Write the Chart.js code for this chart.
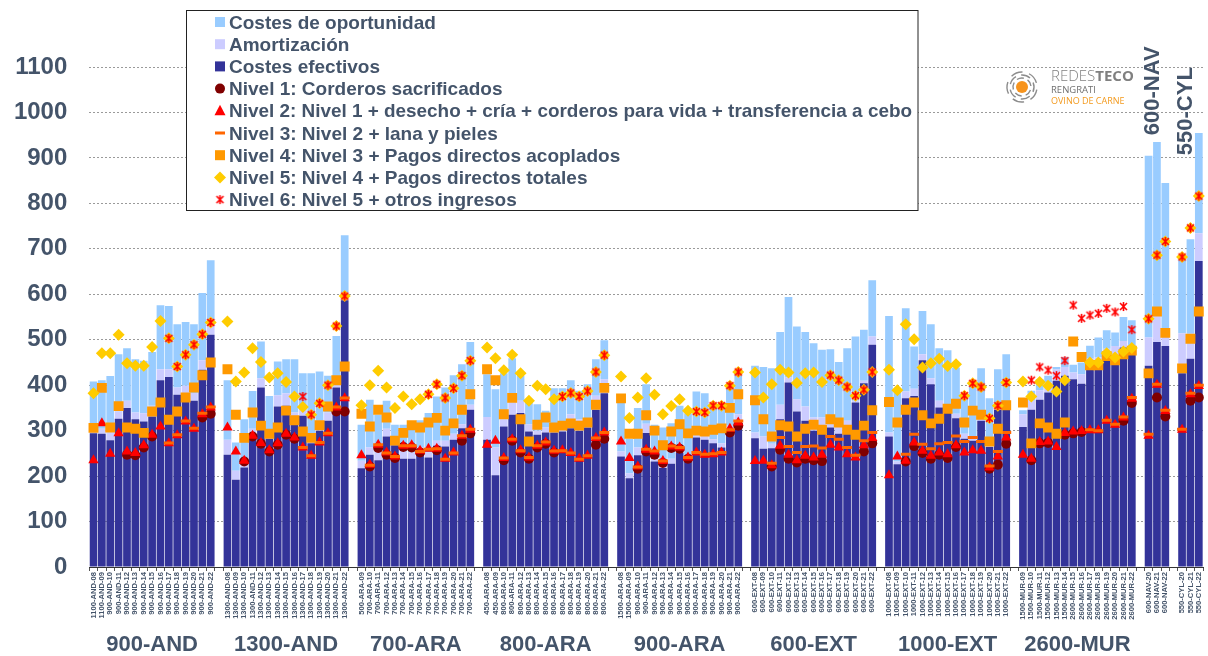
<!DOCTYPE html>
<html><head><meta charset="utf-8">
<script src="https://cdn.jsdelivr.net/npm/chart.js@4.4.1/dist/chart.umd.min.js"></script>
<style>
html,body{margin:0;padding:0;background:#fff;overflow:hidden;width:1208px;height:656px}
canvas{display:block}
</style></head><body>
<canvas id="c" width="1211" height="656"></canvas>
<script>
// ---------- DATA ----------
const groupNames = ['900-AND','1300-AND','700-ARA','800-ARA','900-ARA','600-EXT','1000-EXT','2600-MUR','600-NAV','550-CYL'];

const categories = [
'1100-AND-08','1100-AND-09','900-AND-10','900-AND-11','900-AND-12','900-AND-13','900-AND-14','900-AND-15','900-AND-16','900-AND-17','900-AND-18','900-AND-19','900-AND-20','900-AND-21','900-AND-22','',
'1300-AND-08','1300-AND-09','1300-AND-10','1300-AND-11','1300-AND-12','1300-AND-13','1300-AND-14','1300-AND-15','1300-AND-16','1300-AND-17','1300-AND-18','1300-AND-19','1300-AND-20','1300-AND-21','1300-AND-22','',
'500-ARA-09','700-ARA-10','700-ARA-11','700-ARA-12','700-ARA-13','700-ARA-14','700-ARA-15','700-ARA-16','700-ARA-17','700-ARA-18','700-ARA-19','700-ARA-20','700-ARA-21','700-ARA-22','',
'450-ARA-08','450-ARA-09','800-ARA-10','800-ARA-11','800-ARA-12','800-ARA-13','800-ARA-14','800-ARA-15','800-ARA-16','800-ARA-17','800-ARA-18','800-ARA-19','800-ARA-20','800-ARA-21','800-ARA-22','',
'1500-ARA-08','1500-ARA-09','900-ARA-10','900-ARA-11','900-ARA-12','900-ARA-13','900-ARA-14','900-ARA-15','900-ARA-16','900-ARA-17','900-ARA-18','900-ARA-19','900-ARA-20','900-ARA-21','900-ARA-22','',
'600-EXT-08','600-EXT-09','600-EXT-10','600-EXT-11','600-EXT-12','600-EXT-13','600-EXT-14','600-EXT-15','600-EXT-16','600-EXT-17','600-EXT-18','600-EXT-19','600-EXT-20','600-EXT-21','600-EXT-22','',
'1000-EXT-08','1000-EXT-09','1000-EXT-10','1000-EXT-11','1000-EXT-12','1000-EXT-13','1000-EXT-14','1000-EXT-15','1000-EXT-16','1000-EXT-17','1000-EXT-18','1000-EXT-19','1000-EXT-20','1000-EXT-21','1000-EXT-22','',
'1500-MUR-09','1500-MUR-10','1500-MUR-11','1500-MUR-12','1500-MUR-13','1500-MUR-14','2600-MUR-15','2600-MUR-16','2600-MUR-17','2600-MUR-18','2600-MUR-19','2600-MUR-20','2600-MUR-21','2600-MUR-22','',
'600-NAV-20','600-NAV-21','600-NAV-22','',
'550-CYL-20','550-CYL-21','550-CYL-22'
];

const costesEfectivos = [
294,293,279,326,350,325,320,331,411,418,379,383,366,434,511,null,
247,192,219,285,395,282,353,355,325,333,272,300,322,395,587,null,
217,247,235,287,268,238,238,250,241,267,265,280,305,346,null,
280,202,309,335,339,298,291,296,296,298,305,300,307,346,382,null,
243,195,246,295,232,218,227,252,235,285,280,272,263,300,318,null,
283,260,261,325,406,342,322,300,293,307,293,293,362,404,489,null,
287,226,371,376,455,402,351,339,327,282,278,322,264,346,348,null,
308,346,368,384,410,421,413,403,435,443,460,462,483,472,null,
443,495,486,null,
426,458,673];

const amortizacion = [
12,11,17,16,16,15,18,24,24,17,16,16,17,21,19,null,
33,20,12,19,20,11,25,27,15,11,13,22,18,7,18,null,
17,16,19,17,10,18,14,13,11,11,13,13,9,11,null,
50,61,16,27,27,16,9,11,11,11,31,25,11,31,31,null,
11,11,17,20,6,9,11,11,11,11,10,9,9,11,18,null,
13,27,10,32,11,27,31,29,36,9,16,29,4,6,18,null,
9,6,15,16,13,13,15,12,10,11,4,9,21,9,12,null,
28,20,21,22,25,19,15,21,25,18,20,24,14,14,null,
62,62,30,null,
88,55,61];

const costesOportunidad = [
102,107,124,126,115,117,116,118,141,139,139,140,151,148,145,null,
131,62,94,83,81,83,74,75,117,82,141,108,81,106,125,null,
79,105,81,62,35,57,68,60,87,97,117,129,132,138,null,
94,128,101,97,55,52,58,37,86,84,75,63,84,80,86,null,
108,76,87,87,75,80,78,92,92,90,92,76,83,88,92,null,
147,153,166,160,177,160,164,163,149,163,142,159,141,112,124,null,
256,153,183,93,95,119,115,126,102,87,122,106,86,80,108,null,
9,22,24,15,5,22,17,26,27,44,41,30,53,57,null,
400,378,329,null,
169,208,221];

const nivel1 = [
null,null,null,null,247,246,263,287,null,null,null,null,null,329,337,null,
null,null,232,287,271,254,269,291,282,null,null,null,null,342,342,null,
null,221,262,247,240,264,263,252,null,257,null,null,278,294,null,
null,null,235,278,252,238,263,271,252,null,null,null,null,269,282,null,
null,null,216,254,247,229,262,260,238,null,null,null,null,296,311,null,
null,null,221,258,238,230,238,235,233,null,null,null,null,254,272,null,
null,null,232,266,251,238,247,240,264,null,null,null,216,225,271,null,
null,235,272,273,null,291,294,297,null,null,null,null,322,361,null,
null,373,331,null,
null,366,373];

const nivel2 = [
235,316,249,294,254,251,268,291,309,272,290,320,304,336,351,null,
307,254,234,289,273,257,272,293,285,263,245,274,294,351,371,null,
246,225,269,252,243,267,268,256,260,260,238,252,289,302,null,
269,278,240,281,257,241,267,274,256,257,251,238,245,284,296,null,
276,240,221,258,254,233,265,263,241,252,247,248,252,304,318,null,
233,234,224,267,247,235,245,241,247,269,263,248,241,268,284,null,
202,243,234,274,256,245,252,248,268,252,257,256,219,243,285,null,
247,238,275,276,264,295,298,299,301,301,322,313,329,370,null,
289,401,343,null,
302,380,398];

const nivel3 = [
null,null,null,null,null,null,null,null,null,273,291,321,305,338,352,null,
null,null,null,null,null,null,null,null,null,263,245,274,294,352,372,null,
null,224,269,251,243,267,267,254,259,260,237,251,289,303,null,
null,null,240,281,256,241,267,275,255,256,251,237,245,284,296,null,
null,null,220,259,255,233,266,263,241,252,248,249,252,302,321,null,
null,null,228,285,265,252,265,266,262,287,281,263,246,278,296,null,
null,null,248,292,270,260,271,274,288,276,285,276,222,254,296,null,
null,null,null,null,null,null,null,null,302,300,323,314,330,373,null,
292,402,345,null,
303,382,400];

const nivel4 = [
306,394,307,354,307,304,295,342,362,324,342,373,395,422,450,null,
435,335,284,340,311,293,307,344,323,298,284,312,353,411,441,null,
337,309,346,329,278,295,312,307,318,328,300,316,346,380,null,
435,411,336,372,325,276,313,329,307,311,316,311,318,357,394,null,
371,293,293,334,300,268,298,314,294,300,298,302,305,350,380,null,
367,325,287,312,309,287,304,313,302,325,318,302,291,311,345,null,
363,318,346,362,334,316,326,348,359,318,344,335,276,304,356,null,
362,272,316,307,293,318,496,462,444,444,464,455,468,476,null,
426,562,515,null,
437,502,562];

const nivel5 = [
382,470,470,511,448,443,443,484,541,503,441,467,489,512,538,null,
540,408,428,481,451,417,426,407,375,352,335,360,400,530,596,null,
356,400,432,395,350,375,358,369,380,402,372,393,421,454,null,
483,459,433,467,426,366,399,391,369,375,383,375,387,429,466,null,
419,328,373,415,379,336,354,369,344,342,340,355,355,399,429,null,
428,373,402,434,428,405,426,428,407,422,411,396,377,390,429,null,
434,389,534,501,439,448,458,442,446,377,404,396,327,355,406,null,
408,375,407,399,386,411,null,null,450,450,470,461,474,482,null,
546,686,716,null,
682,746,816];

const nivel6 = [
null,null,null,null,null,null,null,null,null,503,441,467,489,512,538,null,
null,null,null,null,null,null,null,null,null,375,335,360,400,530,596,null,
null,null,null,null,null,null,null,null,380,402,372,393,421,454,null,
null,null,null,null,null,null,null,null,null,375,383,375,387,429,466,null,
null,null,null,null,null,null,null,null,null,342,340,355,355,399,429,null,
null,null,null,null,null,null,null,null,null,422,411,396,377,390,429,null,
null,null,null,null,null,null,null,null,null,377,404,396,327,355,406,null,
null,411,440,433,421,454,576,547,554,558,569,561,573,522,null,
546,686,716,null,
682,746,816];

const yTicks = [0,100,200,300,400,500,600,700,800,900,1000,1100];

// ---------- STYLE ----------
const FONT = "'Liberation Sans', Arial, Helvetica, sans-serif";
const TXT = '#44546a';

// star marker (x + vertical), like Excel's star
function makeStar(size, color) {
  const c = document.createElement('canvas');
  c.width = size; c.height = size;
  const g = c.getContext('2d');
  g.strokeStyle = color; g.lineWidth = 1.6; g.lineCap = 'butt';
  const m = size / 2, r = size / 2 - 1;
  g.beginPath();
  g.moveTo(m - r * 0.78, m - r * 0.78); g.lineTo(m + r * 0.78, m + r * 0.78);
  g.moveTo(m + r * 0.78, m - r * 0.78); g.lineTo(m - r * 0.78, m + r * 0.78);
  g.moveTo(m, m - r); g.lineTo(m, m + r);
  g.stroke();
  return c;
}
const starImg = makeStar(11, '#ff0000');

function pts(label, data, style, radius, color, order, extra) {
  return Object.assign({
    type: 'line', label, data, showLine: false, pointStyle: style,
    pointRadius: radius, pointHoverRadius: radius,
    pointBackgroundColor: color, pointBorderColor: color, pointBorderWidth: 0,
    backgroundColor: color, borderColor: color, stack: 'p' + order, order
  }, extra || {});
}
function bar(label, data, color) {
  return { type: 'bar', label, data, backgroundColor: color, borderWidth: 0,
    stack: 'costes', order: 20, barPercentage: 0.92, categoryPercentage: 1.0 };
}

const datasets = [
  bar('Costes efectivos', costesEfectivos, '#333399'),
  bar('Amortización', amortizacion, '#ccccff'),
  bar('Costes de oportunidad', costesOportunidad, '#99ccff'),
  pts('Nivel 1: Corderos sacrificados', nivel1, 'circle', 5, '#800000', 7),
  pts('Nivel 2: Nivel 1 + desecho + cría + corderos para vida + transferencia a cebo', nivel2, 'triangle', 6, '#ff0000', 6),
  pts('Nivel 3: Nivel 2 + lana y pieles', nivel3, 'line', 5, '#ff6600', 5, { pointBorderWidth: 3 }),
  pts('Nivel 4: Nivel 3 + Pagos directos acoplados', nivel4, 'rect', 7, '#ff9900', 4),
  pts('Nivel 5: Nivel 4 + Pagos directos totales', nivel5, 'rectRot', 6, '#ffcc00', 3),
  pts('Nivel 6: Nivel 5 + otros ingresos', nivel6, starImg, 5, '#ff0000', 2)
];

// ---------- PLUGINS ----------
function legendMarker(ctx, kind, color, x, y) {
  ctx.save();
  ctx.fillStyle = color; ctx.strokeStyle = color;
  ctx.beginPath();
  if (kind === 'box') { ctx.fillRect(x - 5, y - 5, 10, 10); }
  else if (kind === 'circle') { ctx.arc(x, y, 5, 0, Math.PI * 2); ctx.fill(); }
  else if (kind === 'triangle') { ctx.moveTo(x, y - 6); ctx.lineTo(x + 5.5, y + 4.5); ctx.lineTo(x - 5.5, y + 4.5); ctx.closePath(); ctx.fill(); }
  else if (kind === 'line') { ctx.fillRect(x - 5, y - 1.5, 10, 3); }
  else if (kind === 'rect') { ctx.fillRect(x - 5, y - 5, 10, 10); }
  else if (kind === 'rectRot') { ctx.moveTo(x, y - 6); ctx.lineTo(x + 6, y); ctx.lineTo(x, y + 6); ctx.lineTo(x - 6, y); ctx.closePath(); ctx.fill(); }
  else if (kind === 'star') { ctx.drawImage(starImg, x - 5.5, y - 5.5); }
  ctx.restore();
}

const legendPlugin = {
  id: 'boxLegend',
  afterDraw(chart) {
    const ctx = chart.ctx;
    const ds = chart.data.datasets;
    const items = [
      [ds[2].label, 'box', ds[2].backgroundColor],
      [ds[1].label, 'box', ds[1].backgroundColor],
      [ds[0].label, 'box', ds[0].backgroundColor],
      [ds[3].label, 'circle', ds[3].pointBackgroundColor],
      [ds[4].label, 'triangle', ds[4].pointBackgroundColor],
      [ds[5].label, 'line', ds[5].pointBorderColor],
      [ds[6].label, 'rect', ds[6].pointBackgroundColor],
      [ds[7].label, 'rectRot', ds[7].pointBackgroundColor],
      [ds[8].label, 'star', '#ff0000']
    ];
    ctx.save();
    ctx.fillStyle = '#fff';
    ctx.fillRect(186.5, 10.5, 731.5, 200);
    ctx.strokeStyle = '#222'; ctx.lineWidth = 1;
    ctx.strokeRect(186.5, 10.5, 731.5, 200);
    ctx.font = 'bold 19px ' + FONT;
    ctx.textAlign = 'left'; ctx.textBaseline = 'alphabetic';
    items.forEach((it, i) => {
      const base = 28.5 + 22.2 * i;
      legendMarker(ctx, it[1], it[2], 220, base - 6.5);
      ctx.fillStyle = TXT;
      ctx.fillText(it[0], 229, base, 683);
    });
    ctx.restore();
  }
};

const groupPlugin = {
  id: 'groupLabels',
  afterDraw(chart) {
    const ctx = chart.ctx, xs = chart.scales.x, ys = chart.scales.y;
    const ranges = []; let start = null;
    categories.forEach((c, i) => {
      if (c !== '' && start === null) start = i;
      if (start !== null && (c === '' || i === categories.length - 1)) {
        ranges.push([start, c === '' ? i - 1 : i]); start = null;
      }
    });
    const topBase = { 8: 950, 9: 906 };
    ctx.save();
    ctx.fillStyle = TXT;
    ctx.font = 'bold 22px ' + FONT;
    ranges.forEach((r, g) => {
      const cx = (xs.getPixelForValue(r[0]) + xs.getPixelForValue(r[1])) / 2;
      if (topBase[g] === undefined) {
        ctx.textAlign = 'center'; ctx.textBaseline = 'middle';
        ctx.fillText(groupNames[g], cx, 645);
      } else {
        ctx.save();
        ctx.translate(cx - 4.5, ys.getPixelForValue(topBase[g]));
        ctx.rotate(-Math.PI / 2);
        ctx.textAlign = 'left'; ctx.textBaseline = 'middle';
        ctx.fillText(groupNames[g], 0, 0);
        ctx.restore();
      }
    });
    ctx.restore();
  }
};

const logoPlugin = {
  id: 'logo',
  afterDraw(chart) {
    const ctx = chart.ctx;
    const cx = 1022, cy = 87;
    ctx.save();
    ctx.strokeStyle = '#8c8c8c'; ctx.lineWidth = 1.4;
    [[9, 20], [12, 50], [15, 10]].forEach(([r, off]) => {
      for (let k = 0; k < 5; k++) {
        const a0 = (off + k * 72) * Math.PI / 180;
        ctx.beginPath(); ctx.arc(cx, cy, r, a0, a0 + 0.8); ctx.stroke();
      }
    });
    ctx.fillStyle = '#f7941d';
    ctx.beginPath(); ctx.arc(cx, cy, 6, 0, Math.PI * 2); ctx.fill();
    ctx.textAlign = 'left'; ctx.textBaseline = 'alphabetic';
    ctx.fillStyle = '#808080';
    ctx.font = '300 15px "Open Sans", sans-serif';
    ctx.fillText('REDES', 1051, 81);
    const w = ctx.measureText('REDES').width;
    ctx.font = 'bold 15px "Open Sans", sans-serif';
    ctx.fillText('TECO', 1051 + w, 81);
    ctx.fillStyle = '#707070';
    ctx.font = '9.5px "Open Sans", sans-serif';
    ctx.fillText('RENGRATI', 1051, 92.5);
    ctx.fillStyle = '#f39a1e';
    ctx.font = '9px "Open Sans", sans-serif';
    ctx.fillText('OVINO DE CARNE', 1051, 103.5);
    ctx.restore();
  }
};

// ---------- CHART ----------
new Chart(document.getElementById('c'), {
  type: 'bar',
  data: { labels: categories, datasets },
  plugins: [groupPlugin, logoPlugin, legendPlugin],
  options: {
    responsive: false, animation: false, devicePixelRatio: 1,
    events: [],
    layout: { padding: { left: 0, right: 0, top: 67, bottom: 0 } },
    plugins: { legend: { display: false }, tooltip: { enabled: false } },
    scales: {
      x: {
        stacked: true, offset: true,
        grid: { display: true, drawOnChartArea: false, drawTicks: true, tickLength: 4, color: '#555', offset: true },
        border: { display: true, color: '#333', width: 1 },
        ticks: { autoSkip: false, minRotation: 90, maxRotation: 90, padding: 1,
                 color: TXT, font: { family: FONT, size: 7.6, weight: 'bold' } },
        afterFit(s) { s.height = 89; s.paddingLeft = 0; s.paddingRight = 0; }
      },
      y: {
        stacked: true, min: 0, max: 1100,
        afterBuildTicks(s) { s.ticks = yTicks.map(v => ({ value: v })); },
        grid: { color: '#9a9a9a', lineWidth: 1, drawTicks: false },
        border: { display: false, dash: [2, 2] },
        ticks: { padding: 22, color: TXT, font: { family: FONT, size: 24, weight: 'bold' },
                 callback: (v) => String(v) },
        afterFit(s) { s.width = 89.3; s.paddingTop = 0; s.paddingBottom = 0; }
      }
    }
  }
});
</script>
</body></html>
